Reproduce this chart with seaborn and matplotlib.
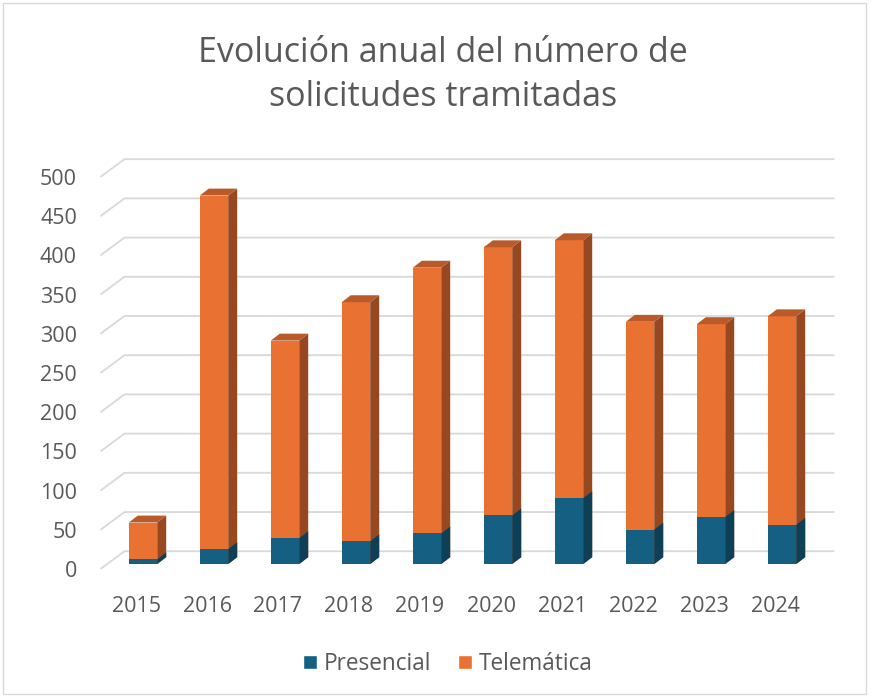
import numpy as np
import pandas as pd
import seaborn as sns
import matplotlib.pyplot as plt
from matplotlib.patches import Polygon, Patch, Rectangle

# ---- data ----
years = ['2015', '2016', '2017', '2018', '2019', '2020', '2021', '2022', '2023', '2024']
presencial = [6, 19, 33, 29, 39, 62, 84, 44, 60, 50]
telematica = [47, 451, 252, 305, 339, 342, 329, 265, 246, 266]
yticks = [0, 50, 100, 150, 200, 250, 300, 350, 400, 450, 500]
series_names = ['Presencial', 'Telemática']
title_lines = ['Evolución anual del número de', 'solicitudes tramitadas']

df = pd.DataFrame({'Año': years, 'Presencial': presencial, 'Telemática': telematica})
df['Total'] = df['Presencial'] + df['Telemática']

# ---- style ----
ORANGE = '#E97132'
ORANGE_SIDE = '#984820'
ORANGE_TOP = '#B85A29'
BLUE = '#156082'
BLUE_SIDE = '#0D3F56'
GRID = '#D9D9D9'
TEXT = '#595959'

sns.set_theme(style='white')
plt.rcParams['font.family'] = ['Open Sans', 'DejaVu Sans']

W, H = 871, 697
fig = plt.figure(figsize=(W / 100, H / 100), dpi=100)
ax_left, ax_right, ax_bottom, ax_top = 107.5, 817.5, 569, 172
ax = fig.add_axes([ax_left / W, (H - ax_bottom) / H, (ax_right - ax_left) / W, (ax_bottom - ax_top) / H])

sns.barplot(data=df, x='Año', y='Total', color=ORANGE, width=0.4, saturation=1,
            errorbar=None, linewidth=0, ax=ax, zorder=3)
sns.barplot(data=df, x='Año', y='Presencial', color=BLUE, width=0.4, saturation=1,
            errorbar=None, linewidth=0, ax=ax, zorder=4)

ax.set_xlim(-0.5, len(years) - 0.5)
ax.set_ylim(0, 500)

pxx = (ax_right - ax_left) / len(years)
pxy = (ax_bottom - ax_top) / 500.0
# bar depth
ddx, ddy = 9 / pxx, 7 / pxy
# back wall / front floor offsets relative to bar plane
dxb, dyb = 17 / pxx, 13 / pxy
dxf, dyf = -7 / pxx, -5 / pxy

n = len(years)
bars = list(ax.patches)
orange_bars, blue_bars = bars[:n], bars[n:2 * n]

for b in orange_bars:
    x, w, y0, h = b.get_x(), b.get_width(), b.get_y(), b.get_height()
    y1 = y0 + h
    side = Polygon([(x + w, y0), (x + w + ddx, y0 + ddy), (x + w + ddx, y1 + ddy), (x + w, y1)],
                   closed=True, facecolor=ORANGE_SIDE, edgecolor='none', zorder=3, clip_on=False)
    top = Polygon([(x, y1), (x + ddx, y1 + ddy), (x + w + ddx, y1 + ddy), (x + w, y1)],
                  closed=True, facecolor=ORANGE_TOP, edgecolor='none', zorder=3, clip_on=False)
    ax.add_patch(side)
    ax.add_patch(top)
    b.set_clip_on(False)

for b in blue_bars:
    x, w, y0, h = b.get_x(), b.get_width(), b.get_y(), b.get_height()
    y1 = y0 + h
    side = Polygon([(x + w, y0), (x + w + ddx, y0 + ddy), (x + w + ddx, y1 + ddy), (x + w, y1)],
                   closed=True, facecolor=BLUE_SIDE, edgecolor='none', zorder=4, clip_on=False)
    ax.add_patch(side)
    b.set_clip_on(False)

# back wall gridlines + side-wall diagonals
xl, xr = -0.5, n - 0.5
for v in yticks:
    ax.plot([xl + dxf, xl + dxb, xr + dxb], [v + dyf, v + dyb, v + dyb],
            color=GRID, lw=1.3, zorder=1, clip_on=False, solid_capstyle='butt')

ax.set_yticks([v + dyf for v in yticks], labels=[str(v) for v in yticks])
ax.set_xticks([i + dxf for i in range(n)], labels=years)
ax.tick_params(axis='y', length=0, pad=22, labelsize=15.5, labelcolor=TEXT)
ax.tick_params(axis='x', length=0, pad=19.5, labelsize=15.5, labelcolor=TEXT)
ax.set_xlabel('')
ax.set_ylabel('')
for s in ax.spines.values():
    s.set_visible(False)
ax.patch.set_alpha(0)

# title
fig.text(443 / W, 1 - 53 / H, title_lines[0], ha='center', va='center', fontsize=24.5, color=TEXT)
fig.text(443 / W, 1 - 97 / H, title_lines[1], ha='center', va='center', fontsize=24.5, color=TEXT)

# legend
handles = [Patch(facecolor=BLUE, label=series_names[0]), Patch(facecolor=ORANGE, label=series_names[1])]
fig.legend(handles=handles, loc='center', bbox_to_anchor=(448 / W, 1 - 664 / H), ncol=2,
           frameon=False, fontsize=16.3, handlelength=0.62, handleheight=0.62,
           handletextpad=0.3, columnspacing=1.2, labelcolor=TEXT)

# chart border
fig.add_artist(Rectangle((3 / W, 3 / H), 863 / W, 691 / H, transform=fig.transFigure,
                         fill=False, edgecolor=GRID, lw=1))

fig.savefig('out.png', dpi=100)
